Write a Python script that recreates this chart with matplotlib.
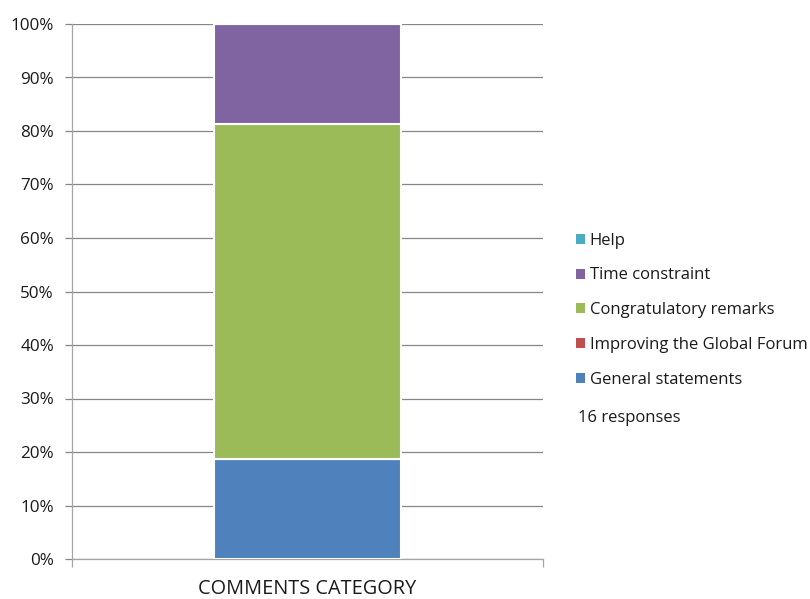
import numpy as np
import matplotlib.pyplot as plt
from matplotlib.patches import Patch
from matplotlib.ticker import PercentFormatter, MultipleLocator

# comment counts per category, bottom of the stack first
categories = ["General statements", "Improving the Global Forum",
              "Congratulatory remarks", "Time constraint", "Help"]
counts = [3, 0, 10, 3, 0]
colors = ["#4F81BD", "#C0504D", "#9BBB59", "#8064A2", "#4BACC6"]
n_responses = 16
x_label = "COMMENTS CATEGORY"

plt.rcParams["font.family"] = ["Open Sans", "DejaVu Sans"]

shares = np.array(counts) / sum(counts) * 100

fig = plt.figure(figsize=(8.1, 5.99), dpi=100)
ax = fig.add_axes([72 / 810, 1 - 559 / 599, (543 - 72) / 810, (559 - 24) / 599])

bottom = 0.0
for name, val, col in zip(categories, shares, colors):
    ax.bar(0, val, width=0.397, bottom=bottom, color=col,
           edgecolor="white", linewidth=1.5, zorder=3)
    bottom += val

ax.set_xlim(-0.5, 0.5)
ax.set_ylim(0, 100)
ax.yaxis.set_major_locator(MultipleLocator(10))
ax.yaxis.set_major_formatter(PercentFormatter(decimals=0))
ax.grid(axis="y", color="#868686", linewidth=0.9, zorder=0)

for side in ("top", "right"):
    ax.spines[side].set_visible(False)
for side in ("left", "bottom"):
    ax.spines[side].set_color("#A6A6A6")
    ax.spines[side].set_linewidth(0.9)

ax.set_xticks([-0.5, 0.5])
ax.set_xticklabels([])
ax.tick_params(axis="x", length=6, color="#A6A6A6", width=0.9)
ax.tick_params(axis="y", length=5, color="#868686", width=0.9,
               labelsize=12.3, labelcolor="#1a1a1a", pad=8)
ax.set_xlabel(x_label, fontsize=14.3, color="#1a1a1a", labelpad=5)

# legend lists the series top of stack first
handles = [Patch(facecolor=c, edgecolor="none") for c in colors][::-1]
fig.legend(handles, categories[::-1], loc="upper left",
           bbox_to_anchor=(569 / 810, 1 - 226 / 599), frameon=False,
           fontsize=12, handlelength=0.55, handleheight=0.55,
           handletextpad=0.3, labelspacing=1.13, borderaxespad=0,
           labelcolor="#1a1a1a")
fig.text(578 / 810, 1 - 418 / 599, f"{n_responses} responses",
         fontsize=12, color="#1a1a1a", va="center")

fig.savefig("out.png", dpi=100)
